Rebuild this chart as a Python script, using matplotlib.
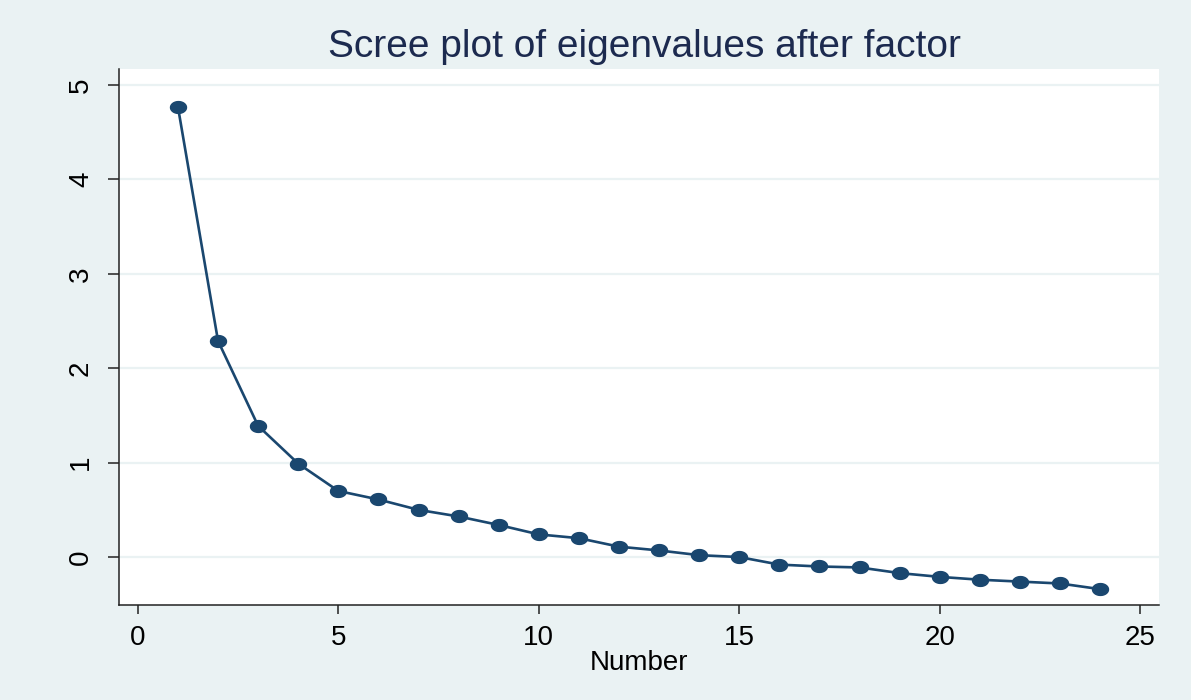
import matplotlib
matplotlib.use("Agg")
import matplotlib.pyplot as plt
import numpy as np
from matplotlib.path import Path

# ==============================
# Data: eigenvalues
# ==============================
factor_number = list(range(1, 25))
eigenvalues = [4.77, 2.29, 1.39, 0.99, 0.70, 0.61, 0.50, 0.43, 0.34, 0.24,
               0.20, 0.11, 0.07, 0.02, 0.00, -0.08, -0.10, -0.11, -0.17, -0.21,
               -0.24, -0.26, -0.28, -0.34]
x_ticks = [0, 5, 10, 15, 20, 25]
y_ticks = [0, 1, 2, 3, 4, 5]

# ==============================
# Style (Stata s2color look)
# ==============================
plt.rcParams["font.family"] = ["Liberation Sans", "DejaVu Sans"]
bg_color = "#eaf2f3"
line_color = "#1a476f"
title_color = "#1c2a4f"

# slightly wide ellipse marker (the original export is stretched)
theta = np.linspace(0, 2 * np.pi, 60)
ellipse = Path(np.column_stack([1.35 * np.cos(theta), np.sin(theta)]), closed=True)

fig = plt.figure(figsize=(11.91, 7.0), dpi=100, facecolor=bg_color)
ax = fig.add_axes([0.0999, 0.1357, 0.8733, 0.7657])
ax.set_facecolor("white")

ax.plot(factor_number, eigenvalues, color=line_color, linewidth=1.9,
        marker=ellipse, markersize=11.5, markerfacecolor=line_color,
        markeredgecolor=line_color, zorder=3)

# ==============================
# Axes
# ==============================
ax.set_xlim(-0.47, 25.47)
ax.set_ylim(-0.508, 5.17)
ax.set_xticks(x_ticks)
ax.set_yticks(y_ticks)
ax.yaxis.grid(True, color=bg_color, linewidth=1.6)
ax.xaxis.grid(False)
ax.set_axisbelow(True)

for side in ["top", "right"]:
    ax.spines[side].set_visible(False)
for side in ["left", "bottom"]:
    ax.spines[side].set_color("#222222")
    ax.spines[side].set_linewidth(1.1)

ax.tick_params(axis="x", length=6.5, width=1.1, color="#222222", pad=8,
               labelsize=20)
ax.tick_params(axis="y", length=8, width=1.1, color="#222222", pad=10,
               labelsize=20)
for lbl in ax.get_yticklabels():
    lbl.set_rotation(90)
    lbl.set_va("center")

ax.set_xlabel("Number", fontsize=20, labelpad=-1)
fig.text(0.541, 0.933, "Scree plot of eigenvalues after factor",
         ha="center", va="center", fontsize=28, color=title_color)

fig.savefig("out.png", dpi=100, facecolor=bg_color)
